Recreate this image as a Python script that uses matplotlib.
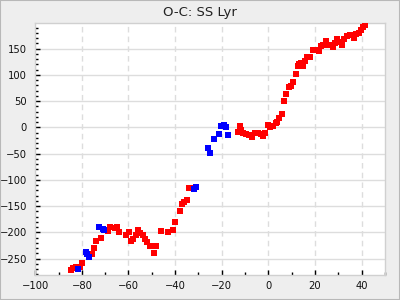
import matplotlib
matplotlib.use("Agg")
import matplotlib.pyplot as plt
from matplotlib.ticker import MultipleLocator
from matplotlib.patches import Rectangle

title = "O-C: SS Lyr"

red_x = [-84.6, -83.6, -82.6, -80.9, -79.9, -75.6, -74.7, -73.9, -71.7, -68.7,
         -67.9, -65.9, -64.9, -64.0, -61.0, -59.9, -58.9, -58.0, -56.8, -55.9,
         -55.0, -53.8, -53.1, -52.2, -50.7, -49.5, -48.9, -48.0, -46.0, -43.0,
         -40.9, -40.0, -37.9, -37.0, -36.1, -34.9, -33.9, -33.0,
         -13.0, -12.2, -11.7, -10.7, -9.4, -8.5, -7.2, -5.7, -4.5, -3.3, -2.4, -1.4,
         0.0, 0.7, 2.1, 3.1, 3.7, 4.7, 5.8, 6.7, 7.5, 8.8, 9.7, 10.5, 11.8, 12.7,
         13.3, 14.0, 14.8, 15.7, 16.5, 17.8, 19.1, 20.0, 21.7, 22.5, 23.4, 24.7,
         26.0, 27.7, 28.5, 29.4, 30.7, 31.5, 32.4, 33.7, 35.0, 36.7, 37.5, 38.8,
         39.7, 40.5, 41.4]
red_y = [-272, -268, -265, -266, -259, -241, -230, -217, -211, -198,
         -189, -192, -189, -199, -204, -200, -217, -212, -204, -196,
         -202, -204, -212, -219, -226, -226, -240, -226, -198, -200,
         -196, -181, -160, -145, -143, -139, -115, -116,
         -8, 2, -5, -11, -13, -14, -19, -11, -11, -13, -16, -11,
         5, 0, 3, 8, 11, 18, 25, 50, 63, 77, 78, 86, 101, 116,
         120, 122, 117, 126, 133, 133, 147, 147, 145, 154, 157, 164,
         157, 153, 160, 168, 163, 156, 168, 173, 175, 170, 177, 179,
         185, 191, 194]

blue_x = [-81.6, -78.4, -77.6, -76.9, -72.6, -71.1, -70.3, -31.9, -31.0,
          -25.9, -25.0, -23.3, -21.2, -20.3, -19.0, -18.2, -17.3]
blue_y = [-270, -238, -241, -246, -190, -194, -195, -118, -114,
          -40, -48, -23, -13, 2, 4, 0, -15]

fig = plt.figure(figsize=(4, 3), dpi=100, facecolor="#eeeeee")
fig.patches.append(Rectangle((0, 0), 1, 1, transform=fig.transFigure,
                             fill=False, edgecolor="#b8b8b8", linewidth=1.5))
ax = fig.add_axes([0.088, 0.0833, 0.8745, 0.839])
ax.set_facecolor("white")

ax.scatter(red_x, red_y, marker="s", s=16, color="#ff0000", linewidths=0, zorder=3)
ax.scatter(blue_x, blue_y, marker="s", s=16, color="#0000ff", linewidths=0, zorder=4)

ax.set_xlim(-100, 50)
ax.set_ylim(-281, 198)
ax.xaxis.set_major_locator(MultipleLocator(20))
ax.xaxis.set_minor_locator(MultipleLocator(10))
ax.yaxis.set_major_locator(MultipleLocator(50))
ax.yaxis.set_minor_locator(MultipleLocator(10))

ax.grid(True, axis="y", which="major", color="#dddddd", linestyle="-", linewidth=1)
ax.grid(True, axis="x", which="major", color="#dddddd", linestyle=(0, (4, 3)), linewidth=1)
ax.set_axisbelow(True)

for s in ax.spines.values():
    s.set_color("#d0d0d0")
    s.set_linewidth(1)

ax.tick_params(which="both", direction="in", labelsize=7.2, colors="black",
               labelcolor="#111111", top=False, right=False)
ax.tick_params(which="major", length=3.5, width=1)
ax.tick_params(which="minor", length=2, width=1)
ax.tick_params(axis="y", pad=6)
ax.tick_params(axis="x", pad=4)

fig.text(0.5, 0.958, title, ha="center", va="center", fontsize=9.5, color="#222222")

fig.savefig("out.png", dpi=100, facecolor=fig.get_facecolor())
